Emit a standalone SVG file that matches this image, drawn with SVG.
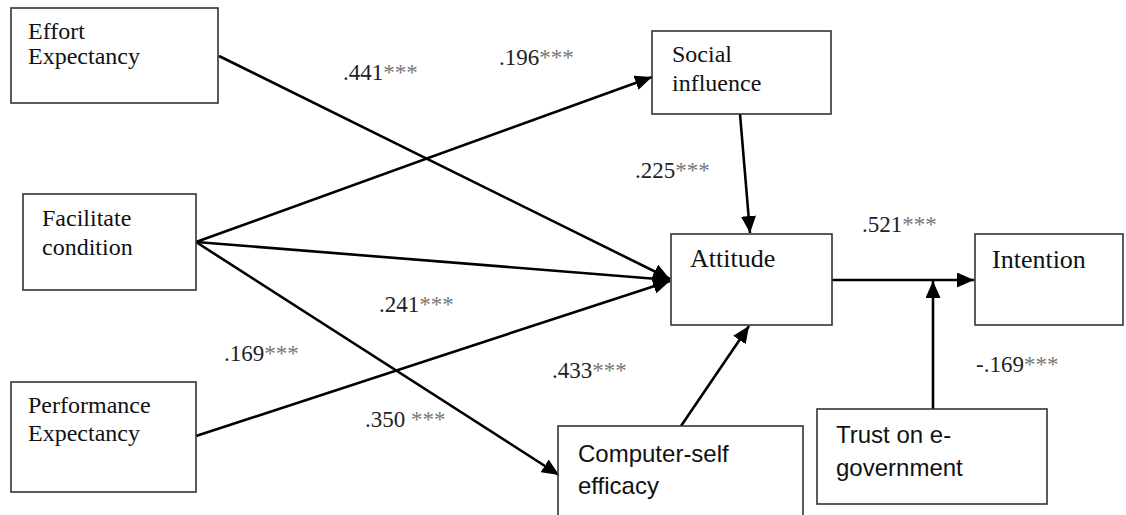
<svg xmlns="http://www.w3.org/2000/svg" width="1126" height="515" viewBox="0 0 1126 515">
<style>
.box{fill:#fff;stroke:#333;stroke-width:1.6}
.serif{font-family:"Liberation Serif","Times New Roman",serif;fill:#111;font-size:24px}
.big{font-size:26px}
.sans{font-family:"Liberation Sans",Arial,sans-serif;fill:#111;font-size:24px}
.lbl{font-family:"Liberation Serif","Times New Roman",serif;font-size:23px;fill:#222}
.st{fill:#777}
.con{stroke:#000;stroke-width:2.6;fill:none;marker-end:url(#ah)}
</style>
<defs>
<marker id="ah" markerUnits="userSpaceOnUse" markerWidth="19" markerHeight="15" refX="17" refY="7.5" orient="auto">
<path d="M0,0 L17,7.5 L0,15 Z" fill="#000"/>
</marker>
</defs>
<rect width="1126" height="515" fill="#fff"/>
<g id="connectors">
<line class="con" x1="219" y1="56" x2="670" y2="279"/>
<line class="con" x1="196" y1="242" x2="652" y2="77"/>
<line class="con" x1="196" y1="242" x2="670" y2="280"/>
<line class="con" x1="196" y1="242" x2="559" y2="475"/>
<line class="con" x1="196" y1="436" x2="670" y2="281"/>
<line class="con" x1="740" y1="114" x2="750" y2="233"/>
<line class="con" x1="681" y1="426" x2="749" y2="326"/>
<line class="con" x1="832" y1="280" x2="974" y2="280"/>
<line class="con" x1="933" y1="409" x2="933" y2="281"/>
</g>
<g id="effort">
<rect class="box" x="11" y="8" width="207" height="95"/>
<text class="serif" x="28" y="39">Effort</text>
<text class="serif" x="28" y="64">Expectancy</text>
</g>
<g id="facilitate">
<rect class="box" x="23" y="194" width="173" height="96"/>
<text class="serif" x="42" y="226">Facilitate</text>
<text class="serif" x="42" y="255">condition</text>
</g>
<g id="performance">
<rect class="box" x="11" y="382" width="185" height="110"/>
<text class="serif" x="28" y="413">Performance</text>
<text class="serif" x="28" y="441">Expectancy</text>
</g>
<g id="social">
<rect class="box" x="652" y="31" width="179" height="83"/>
<text class="serif" x="672" y="62">Social</text>
<text class="serif" x="672" y="91">influence</text>
</g>
<g id="attitude">
<rect class="box" x="671" y="234" width="161" height="91"/>
<text class="serif big" x="690" y="267">Attitude</text>
</g>
<g id="intention">
<rect class="box" x="975" y="234" width="148" height="91"/>
<text class="serif big" x="992" y="268">Intention</text>
</g>
<g id="computer">
<rect class="box" x="558" y="426" width="245" height="110"/>
<text class="sans" x="578" y="462">Computer-self</text>
<text class="sans" x="578" y="494">efficacy</text>
</g>
<g id="trust">
<rect class="box" x="817" y="409" width="230" height="95"/>
<text class="sans" x="836" y="443">Trust on e-</text>
<text class="sans" x="836" y="476">government</text>
</g>
<g id="labels">
<text class="lbl" x="343" y="80">.441<tspan class="st">***</tspan></text>
<text class="lbl" x="499" y="65">.196<tspan class="st">***</tspan></text>
<text class="lbl" x="635" y="178">.225<tspan class="st">***</tspan></text>
<text class="lbl" x="862" y="232">.521<tspan class="st">***</tspan></text>
<text class="lbl" x="976" y="372">-.169<tspan class="st">***</tspan></text>
<text class="lbl" x="379" y="312">.241<tspan class="st">***</tspan></text>
<text class="lbl" x="224" y="361">.169<tspan class="st">***</tspan></text>
<text class="lbl" x="552" y="378">.433<tspan class="st">***</tspan></text>
<text class="lbl" x="365" y="427">.350 <tspan class="st">***</tspan></text>
</g>
</svg>
